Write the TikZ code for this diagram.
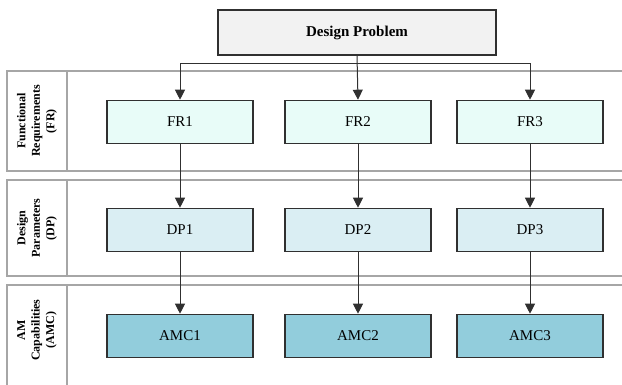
\documentclass[tikz,border=0pt]{standalone}
\usepackage{fontspec}
\setmainfont{Liberation Serif}
\usetikzlibrary{arrows.meta}

\definecolor{probfill}{HTML}{F2F2F2}
\definecolor{frfill}{HTML}{E8FCF8}
\definecolor{dpfill}{HTML}{DAEEF3}
\definecolor{amcfill}{HTML}{92CDDC}
\definecolor{lanegray}{HTML}{A6A6A6}
\definecolor{edgegray}{HTML}{303030}

\tikzset{
  blockbox/.style = {draw=edgegray, line width=1.6pt, minimum width=146pt, minimum height=43pt,
                     inner sep=0pt, font=\fontsize{15}{18}\selectfont},
  lanebox/.style  = {draw=lanegray, line width=1.6pt},
  lanetext/.style = {rotate=90, align=center, font=\bfseries\fontsize{12}{14.5}\selectfont},
  link/.style     = {draw=edgegray, line width=1pt, -{Triangle[length=10pt,width=10pt]}}
}

\begin{document}
\begin{tikzpicture}[x=1pt, y=-1pt]
\useasboundingbox (0,0) rectangle (622,384);

% swim lanes
\draw[lanebox] (7,71) rectangle (640,171);
\draw[lanebox] (67,71) -- (67,171);
\draw[lanebox] (7,180) rectangle (640,276);
\draw[lanebox] (67,180) -- (67,276);
\draw[lanebox] (640,285) -- (7,285) -- (7,400);
\draw[lanebox] (67,285) -- (67,400);

\node[lanetext] (fr label) at (37,121) {Functional\\Requirements\\(FR)};
\node[lanetext] (dp label) at (37,228) {Design\\Parameters\\(DP)};
\node[lanetext] (amc label) at (37,330) {AM\\Capabilities\\(AMC)};

% top box
\node[blockbox, fill=probfill, minimum width=278pt, minimum height=45pt,
      font=\bfseries\fontsize{15}{18}\selectfont] (prob) at (357,32.5) {Design Problem};

% FR, DP, AMC columns
\foreach \i/\x in {1/180, 2/358, 3/530} {
  \node[blockbox, fill=frfill]  (fr\i)  at (\x,122) {FR\i};
  \node[blockbox, fill=dpfill]  (dp\i)  at (\x,230) {DP\i};
  \node[blockbox, fill=amcfill] (amc\i) at (\x,336) {AMC\i};
}

% connectors
\coordinate (split) at (357,63);
\draw[link] (prob.south) -- (fr2.north);
\draw[link] (split) -| (fr1.north);
\draw[link] (split) -| (fr3.north);
\foreach \i in {1,2,3} {
  \draw[link] (fr\i) -- (dp\i);
  \draw[link] (dp\i) -- (amc\i);
}
\end{tikzpicture}
\end{document}
